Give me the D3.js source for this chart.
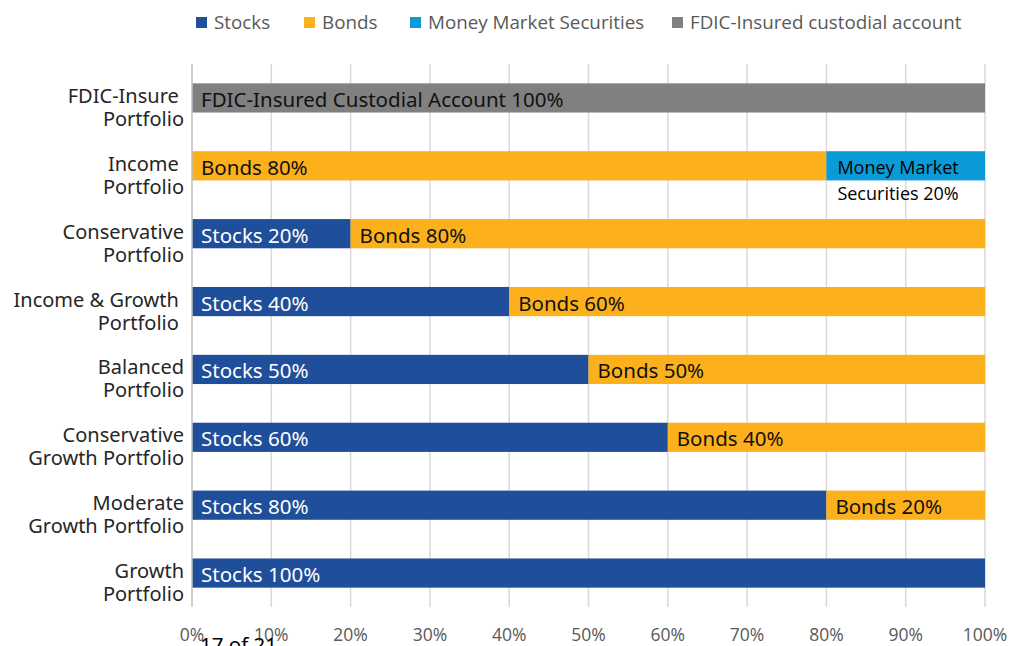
<!DOCTYPE html>
<html>
<head>
<meta charset="utf-8">
<script src="https://cdn.jsdelivr.net/npm/d3@7"></script>
<style>
  body { margin: 0; background: #fff; }
  svg { display: block; }
</style>
</head>
<body>
<div id="canvas"></div>
<script>
"use strict"

/* drawing size */
let svgWidth = 1021;
let svgHeight = 646;
/* plot area */
let leftMargin = 192
let rightMargin = 36
let topMargin = 64
let bottomMargin = 39

/* data, top row first */
let portfolios = ["FDIC-Insure", "Income", "Conservative", "Income & Growth", "Balanced",
    "Conservative Growth", "Moderate Growth", "Growth"];
let labelLines = [
    ["FDIC-Insure ", "Portfolio"],
    ["Income ", "Portfolio"],
    ["Conservative", "Portfolio"],
    ["Income & Growth ", "Portfolio "],
    ["Balanced", "Portfolio"],
    ["Conservative", "Growth Portfolio"],
    ["Moderate", "Growth Portfolio"],
    ["Growth", "Portfolio"]
];
let stocks = [0, 0, 20, 40, 50, 60, 80, 100];
let bonds = [0, 80, 80, 60, 50, 40, 20, 0];
let moneyMarket = [0, 20, 0, 0, 0, 0, 0, 0];
let fdicAccount = [100, 0, 0, 0, 0, 0, 0, 0];

let seriesNames = ["Stocks", "Bonds", "Money Market Securities", "FDIC-Insured custodial account"];
let seriesColors = ["#1f4e9a", "#fcb01b", "#0b9ad8", "#808080"];
let seriesText = ["Stocks", "Bonds", "Money Market Securities", "FDIC-Insured Custodial Account"];
let xTicks = [0, 10, 20, 30, 40, 50, 60, 70, 80, 90, 100];

let mainFont = "'Noto Sans', 'Open Sans', sans-serif";
let officeFont = "'Open Sans', 'Noto Sans', sans-serif";

let svg = d3.select("#canvas")
    .append("svg")
    .attr("width", svgWidth)
    .attr("height", svgHeight);

/* build rows for the stack */
let rows = portfolios.map(function (name, i) {
    return { name: name, s0: stocks[i], s1: bonds[i], s2: moneyMarket[i], s3: fdicAccount[i] };
});
let stack = d3.stack().keys(["s0", "s1", "s2", "s3"])(rows);

let xScale = d3.scaleLinear()
    .domain([0, 100])
    .range([leftMargin, svgWidth - rightMargin]);

let yScale = d3.scaleBand()
    .domain(portfolios)
    .range([topMargin, svgHeight - bottomMargin])
    .paddingInner(0.57)
    .paddingOuter(0.285);

/* gridlines */
svg.append("g")
    .selectAll("line")
    .data(xTicks.slice(1))
    .join("line")
    .attr("x1", d => xScale(d))
    .attr("x2", d => xScale(d))
    .attr("y1", topMargin)
    .attr("y2", svgHeight - bottomMargin)
    .attr("stroke", "#d9d9d9")
    .attr("stroke-width", 1.5);

/* bars */
stack.forEach(function (layer, k) {
    svg.append("g")
        .selectAll("rect")
        .data(layer.filter(d => d[1] - d[0] > 0))
        .join("rect")
        .attr("x", d => xScale(d[0]))
        .attr("width", d => xScale(d[1]) - xScale(d[0]))
        .attr("y", d => yScale(d.data.name))
        .attr("height", yScale.bandwidth())
        .attr("fill", seriesColors[k]);
});

/* y axis line */
svg.append("line")
    .attr("x1", xScale(0))
    .attr("x2", xScale(0))
    .attr("y1", topMargin)
    .attr("y2", svgHeight - bottomMargin)
    .attr("stroke", "#bfbfbf")
    .attr("stroke-width", 1.5);

/* data labels inside the bars */
stack.forEach(function (layer, k) {
    layer.forEach(function (d) {
        let value = d[1] - d[0];
        if (value <= 0) return;
        let yMid = yScale(d.data.name) + yScale.bandwidth() / 2;
        if (k == 2) {
            /* money market label is wrapped onto two lines */
            let t = svg.append("text")
                .attr("x", xScale(d[0]) + 11)
                .attr("y", yMid + 8)
                .attr("font-family", officeFont)
                .attr("font-size", 18)
                .attr("fill", "#000");
            t.append("tspan").text("Money Market");
            t.append("tspan").attr("x", xScale(d[0]) + 11).attr("dy", 26).text("Securities " + value + "%");
            return;
        }
        svg.append("text")
            .attr("x", xScale(d[0]) + 9)
            .attr("y", yMid + 9)
            .attr("font-family", mainFont)
            .attr("font-size", 20.5)
            .attr("fill", k == 0 ? "#fff" : "#111")
            .text(seriesText[k] + " " + value + "%");
    });
});

/* category labels */
portfolios.forEach(function (name, i) {
    let yMid = yScale(name) + yScale.bandwidth() / 2;
    let t = svg.append("text")
        .attr("x", leftMargin - 8)
        .attr("y", yMid + 5)
        .attr("text-anchor", "end")
        .attr("font-family", mainFont)
        .attr("font-size", 20)
        .attr("fill", "#262626")
        .style("white-space", "pre");
    t.append("tspan").attr("x", leftMargin - 8).text(labelLines[i][0]);
    t.append("tspan").attr("x", leftMargin - 8).attr("dy", 23).text(labelLines[i][1]);
});

/* x tick labels */
svg.append("g")
    .selectAll("text")
    .data(xTicks)
    .join("text")
    .attr("x", d => xScale(d))
    .attr("y", 641)
    .attr("text-anchor", "middle")
    .attr("font-family", officeFont)
    .attr("font-size", 17.5)
    .attr("fill", "#595959")
    .text(d => d + "%");

/* legend */
let legendX = [196, 304, 410, 672];
seriesNames.forEach(function (name, i) {
    svg.append("rect")
        .attr("x", legendX[i])
        .attr("y", 17)
        .attr("width", 11)
        .attr("height", 11)
        .attr("fill", seriesColors[i]);
    svg.append("text")
        .attr("x", legendX[i] + 18)
        .attr("y", 29)
        .attr("font-family", officeFont)
        .attr("font-size", 18.8)
        .attr("fill", "#595959")
        .text(name);
});

/* page number from the source document, overlapping the axis */
svg.append("text")
    .attr("x", 200)
    .attr("y", 652)
    .attr("font-family", mainFont)
    .attr("font-size", 20.5)
    .attr("fill", "#000")
    .text("17 of 21");
</script>
</body>
</html>
